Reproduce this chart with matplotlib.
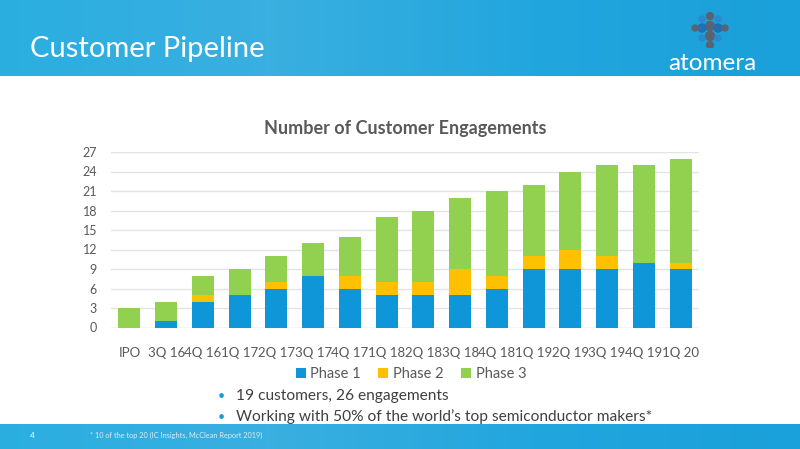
import numpy as np
import matplotlib.pyplot as plt
from matplotlib.patches import Circle
from matplotlib.colors import LinearSegmentedColormap

plt.rcParams['font.family'] = ['Lato', 'DejaVu Sans']

quarters = ['IPO', '3Q 16', '4Q 16', '1Q 17', '2Q 17', '3Q 17', '4Q 17', '1Q 18',
            '2Q 18', '3Q 18', '4Q 18', '1Q 19', '2Q 19', '3Q 19', '4Q 19', '1Q 20']
phase1 = [0, 1, 4, 5, 6, 8, 6, 5, 5, 5, 6, 9, 9, 9, 10, 9]
phase2 = [0, 0, 1, 0, 1, 0, 2, 2, 2, 4, 2, 2, 3, 2, 0, 1]
phase3 = [3, 3, 3, 4, 4, 5, 6, 10, 11, 11, 13, 11, 12, 14, 15, 16]
yticks = list(range(0, 28, 3))

c1, c2, c3 = '#0E96D8', '#FFC000', '#92D050'
grey = '#595959'

fig = plt.figure(figsize=(8, 4.49), dpi=100)

# header banner
hdr = fig.add_axes([0, 1 - 76 / 449, 1, 76 / 449])
grad = np.linspace(0, 1, 256).reshape(1, -1)
bcmap = LinearSegmentedColormap.from_list('b', ['#2AAEE0', '#3AAFE0', '#22A6DE', '#1AA0DA'])
hdr.imshow(grad, aspect='auto', cmap=bcmap, extent=[0, 1, 0, 1])
hdr.set_xlim(0, 1)
hdr.set_ylim(0, 1)
hdr.axis('off')
hdr.text(30 / 800, 0.36, 'Customer Pipeline', color='white', fontsize=21,
         va='center', ha='left')
hdr.text(712 / 800, 0.17, 'atomera', color='white', fontsize=17.5, va='center', ha='center')

# logo dots
logo = fig.add_axes([690 / 800, 1 - 48 / 449, 40 / 800, 36 / 449])
logo.set_xlim(0, 40)
logo.set_ylim(0, 36)
logo.set_aspect('equal')
logo.axis('off')
for (x, y, r, col) in [(20, 32, 3.5, '#5a6470'), (20, 22, 4.5, '#5a6470'), (20, 12, 4.5, '#5a6470'),
                       (20, 3, 3.5, '#5a6470'), (12, 20, 4, '#1f6fb2'), (28, 20, 4, '#1f6fb2'),
                       (5, 20, 3, '#5a6470'), (35, 20, 3, '#5a6470'), (12, 10, 3, '#2a8ad0'),
                       (28, 10, 3, '#2a8ad0'), (12, 29, 3, '#2a8ad0'), (28, 29, 3, '#2a8ad0')]:
    logo.add_patch(Circle((x, y), r, color=col))

# footer banner
ftr = fig.add_axes([0, 0, 1, 25 / 449])
ftr.imshow(grad, aspect='auto', cmap=bcmap, extent=[0, 1, 0, 1])
ftr.set_xlim(0, 1)
ftr.set_ylim(0, 1)
ftr.axis('off')
ftr.text(30 / 800, 0.55, '4', color='white', fontsize=6, va='center')
ftr.text(90 / 800, 0.55, '* 10 of the top 20 (IC Insights, McClean Report 2019)',
         color='#d8eef8', fontsize=5.3, va='center')

# chart
ax = fig.add_axes([111 / 800, 121.5 / 449, 588 / 800, 175.5 / 449])
x = np.arange(len(quarters))
b12 = np.array(phase1) + np.array(phase2)
ax.bar(x, phase1, 0.6, color=c1, label='Phase 1', zorder=3)
ax.bar(x, phase2, 0.6, bottom=phase1, color=c2, label='Phase 2', zorder=3)
ax.bar(x, phase3, 0.6, bottom=b12, color=c3, label='Phase 3', zorder=3)
ax.set_xlim(-0.5, len(quarters) - 0.5)
ax.set_ylim(0, 27)
ax.set_yticks(yticks)
ax.set_xticks(x)
ax.set_xticklabels(quarters)
ax.tick_params(length=0, colors=grey, labelsize=9)
ax.tick_params(axis='x', pad=14, labelsize=9.5)
ax.tick_params(axis='y', pad=10)
ax.grid(axis='y', color='#e3e3e3', lw=1, zorder=0)
for s in ax.spines.values():
    s.set_visible(False)
ax.axhline(0, color='#e3e3e3', lw=1, zorder=1)
ax.set_title('Number of Customer Engagements', color=grey, fontsize=13,
             fontweight='bold', pad=13)
ax.legend(loc='upper center', bbox_to_anchor=(0.51, -0.15), ncol=3, frameon=False,
          fontsize=10.5, handlelength=0.7, handleheight=0.7, columnspacing=1.2,
          handletextpad=0.3, labelcolor=grey)

# bullets
for yy, txt in [(396, '19 customers, 26 engagements'),
                (417, 'Working with 50% of the world\u2019s top semiconductor makers*')]:
    fig.text(218 / 800, 1 - yy / 449, '\u2022', color='#1A9AD6', fontsize=9, va='center')
    fig.text(236 / 800, 1 - yy / 449, txt, color='#404040', fontsize=11.2, va='center')

fig.savefig('out.png', dpi=100)
